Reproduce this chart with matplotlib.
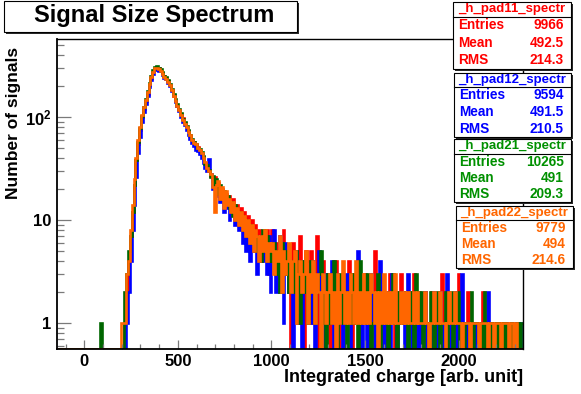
import numpy as np
import matplotlib.pyplot as plt
from matplotlib.patches import Rectangle
from matplotlib.lines import Line2D
from matplotlib.ticker import FixedLocator, NullFormatter

plt.rcParams['font.family'] = ['Liberation Sans', 'DejaVu Sans']
plt.rcParams['font.weight'] = 'bold'
plt.rcParams['mathtext.fontset'] = 'custom'
plt.rcParams['mathtext.rm'] = 'Liberation Sans:bold'
plt.rcParams['mathtext.it'] = 'Liberation Sans:bold'
plt.rcParams['mathtext.bf'] = 'Liberation Sans:bold'

W, H = 581, 394

# histogram range / binning
x_lo, x_hi, n_bins = -144, 2342, 250

# bin contents (bins 0..249)
red = ([0] * 36
       + [1, 2, 4, 7, 12, 22, 38, 55, 75, 100, 120, 145, 170, 205, 240, 275, 300, 305, 300, 285,
          270, 250, 240, 225, 205, 185, 160, 145, 130, 118, 108, 98, 88, 80, 74, 66, 60, 58, 54, 51,
          47, 44, 41, 36, 33, 30]
       + [27, 24, 26, 21, 23, 18, 20, 15, 18, 15, 17, 12, 16, 11, 14, 10, 13, 9, 12, 8,
          11, 7, 10, 6, 9, 5, 8, 4, 7, 6, 8, 3, 5]
       + [8, 4, 3, 6, 2, 5, 8, 3, 4, 2,
          0, 6, 3, 1, 4, 7, 2, 0, 5, 4,
          2, 5, 1, 3, 7, 0, 2, 4, 1, 3,
          2, 0, 3, 1, 4, 2, 0, 1, 3, 2,
          1, 4, 2, 0, 3, 1, 2, 0, 2, 1,
          3, 1, 0, 2, 1, 5, 2, 1, 0, 2,
          1, 0, 2, 3, 1, 1, 0, 2, 1, 3,
          2, 1, 0, 1, 2, 1, 3, 0, 1, 2,
          1, 0, 2, 1, 1, 0, 2, 1, 0, 1,
          1, 3, 0, 1, 2, 0, 1, 1, 0, 2,
          3, 1, 0, 1, 0, 2, 1, 0, 1, 0,
          1, 1, 0, 2, 0, 1, 0, 1, 1, 0,
          1, 0, 1, 1, 0, 1, 1, 1, 0, 1,
          0, 1, 1, 0, 0])

blue = ([0] * 36
        + [0, 1, 2, 4, 8, 14, 26, 45, 65, 90, 112, 135, 160, 195, 230, 265, 295, 290, 285, 280,
           260, 240, 235, 215, 200, 180, 165, 140, 128, 115, 100, 90, 85, 76, 68, 62, 56, 52, 48, 47,
           44, 40, 36, 32, 30, 39]
        + [28, 20, 24, 17, 21, 15, 19, 12, 16, 13, 10, 14, 12, 9, 11, 8, 10, 6, 9, 5,
           7, 4, 8, 5, 6, 3, 7, 5, 4, 6, 3, 7, 2]
        + [5, 8, 2, 4, 7, 3, 1, 6, 3, 2,
           4, 0, 2, 5, 1, 3, 0, 4, 2, 1,
           3, 1, 4, 0, 2, 5, 1, 2, 0, 3,
           1, 2, 4, 0, 1, 3, 2, 1, 0, 2,
           3, 1, 0, 2, 1, 2, 5, 1, 0, 1,
           2, 0, 1, 3, 1, 0, 2, 1, 4, 1,
           0, 2, 1, 0, 3, 1, 2, 0, 1, 1,
           2, 0, 1, 3, 1, 0, 1, 2, 0, 1,
           0, 1, 2, 0, 1, 1, 0, 2, 1, 0,
           2, 1, 0, 1, 3, 1, 0, 1, 2, 0,
           1, 0, 3, 1, 0, 1, 0, 1, 0, 1,
           0, 1, 1, 0, 1, 0, 2, 0, 1, 0,
           1, 1, 0, 0, 1, 0, 1, 0, 1, 0,
           1, 0, 0, 1, 0])

green = ([0] * 23 + [1] + [0] * 12
         + [2, 3, 5, 7, 12, 22, 38, 58, 78, 102, 125, 150, 180, 215, 255, 290, 310, 315, 305, 295,
            275, 255, 245, 230, 210, 190, 170, 150, 135, 120, 110, 97, 90, 82, 75, 68, 62, 57, 55, 50,
            49, 46, 42, 35, 34, 31]
         + [26, 27, 21, 25, 18, 22, 16, 19, 15, 17, 13, 15, 11, 14, 10, 12, 9, 11, 8, 10,
            7, 9, 6, 8, 5, 7, 6, 4, 8, 5, 7, 4, 6]
         + [4, 6, 3, 5, 2, 6, 4, 3, 5, 2,
            3, 4, 2, 5, 3, 1, 4, 2, 3, 1,
            2, 4, 3, 1, 2, 3, 5, 1, 2, 0,
            3, 1, 2, 4, 1, 0, 2, 3, 1, 2,
            0, 2, 1, 3, 1, 2, 0, 4, 1, 2,
            1, 3, 2, 0, 1, 2, 1, 3, 0, 1,
            2, 1, 0, 2, 1, 3, 1, 0, 2, 1,
            1, 2, 1, 0, 2, 1, 0, 3, 1, 1,
            2, 0, 1, 1, 0, 2, 1, 0, 1, 2,
            0, 1, 1, 2, 0, 1, 2, 0, 1, 1,
            2, 0, 1, 0, 1, 1, 0, 2, 0, 1,
            1, 0, 1, 0, 2, 0, 1, 0, 1, 1,
            0, 1, 0, 1, 0, 1, 0, 0, 1, 0,
            0, 0, 1, 0, 1])

orange = ([0] * 34 + [1, 1]
          + [1, 3, 4, 8, 14, 25, 40, 60, 80, 105, 125, 148, 175, 210, 245, 275, 300, 305, 295, 285,
             265, 248, 235, 220, 205, 185, 162, 145, 130, 118, 105, 95, 86, 80, 72, 67, 60, 56, 55, 50,
             48, 45, 40, 37, 32, 30]
          + [28, 21, 12, 22, 24, 16, 21, 13, 19, 14, 16, 12, 15, 10, 13, 9, 12, 8, 11, 7,
             10, 6, 9, 5, 8, 7, 4, 7, 5, 8, 4, 6, 5]
          + [6, 3, 5, 4, 7, 2, 5, 3, 4, 6,
             2, 4, 5, 1, 3, 4, 2, 3, 5, 1,
             3, 2, 4, 1, 3, 2, 0, 3, 2, 1,
             2, 3, 1, 2, 0, 3, 1, 2, 4, 1,
             2, 1, 3, 2, 1, 4, 1, 2, 1, 3,
             1, 2, 1, 3, 2, 1, 2, 0, 2, 1,
             3, 1, 2, 1, 2, 1, 3, 1, 1, 2,
             1, 2, 1, 2, 1, 1, 2, 1, 2, 1,
             1, 1, 2, 1, 0, 1, 1, 2, 1, 1,
             2, 1, 1, 0, 1, 2, 1, 1, 2, 1,
             1, 1, 0, 1, 1, 1, 0, 1, 1, 1,
             1, 0, 1, 1, 1, 1, 0, 1, 1, 0,
             1, 1, 1, 0, 1, 1, 1, 0, 1, 1,
             0, 1, 0, 0, 0])

hist_names = ['_h_pad11_spectr', '_h_pad12_spectr', '_h_pad21_spectr', '_h_pad22_spectr']
entries = ['9966', '9594', '10265', '9779']
means = ['492.5', '491.5', '491', '494']
rms = ['214.3', '210.5', '209.3', '214.6']

line_colors = ['#ff0000', '#0000ff', '#006600', '#ff6600']
text_colors = ['#ff0000', '#0000ff', '#009000', '#ff6600']

y_lo, y_hi = 0.56, 574


def fx(x):
    return x / W


def fy(y):
    return 1 - y / H


fig = plt.figure(figsize=(W / 100, H / 100), dpi=100)
ax = fig.add_axes([fx(57.3), fy(348.7), (522.7 - 57.3) / W, (348.7 - 39.3) / H])

edges = np.linspace(x_lo, x_hi, n_bins + 1)
for vals, col in zip([red, blue, green, orange], line_colors):
    v = np.clip(np.asarray(vals, dtype=float), y_lo, None)
    ax.stairs(v, edges, color=col, lw=1.9, baseline=None)

ax.set_xlim(x_lo, x_hi)
ax.set_yscale('log')
ax.set_ylim(y_lo, y_hi)

ax.set_xticks([0, 500, 1000, 1500, 2000])
ax.xaxis.set_minor_locator(FixedLocator(np.arange(-100, 2301, 100)))
ax.set_yticks([1, 10, 100], ['1', '10', r'$10^{2}$'])
ax.yaxis.set_minor_locator(FixedLocator([0.6, 0.7, 0.8, 0.9,
                                         2, 3, 4, 5, 6, 7, 8, 9,
                                         20, 30, 40, 50, 60, 70, 80, 90,
                                         200, 300, 400, 500]))
ax.yaxis.set_minor_formatter(NullFormatter())

ax.tick_params(which='both', direction='in', top=False, right=False,
               color='#7a7a7a', width=0.9)
ax.tick_params(axis='x', which='major', length=6.7, pad=3.5, labelsize=12)
ax.tick_params(axis='x', which='minor', length=3.4)
ax.tick_params(axis='y', which='major', length=10, pad=4, labelsize=12)
ax.tick_params(axis='y', which='minor', length=5)
for s in ax.spines.values():
    s.set_color('black')
    s.set_linewidth(1.0)
ax.spines['left'].set_linewidth(1.3)
ax.spines['bottom'].set_linewidth(1.3)

fig.text(fx(522.7), fy(377), 'Integrated charge [arb. unit]', ha='right', va='center',
         fontsize=13, fontweight='bold')
fig.text(fx(13.5), fy(47), 'Number of signals', ha='center', va='top', rotation=90,
         fontsize=12.5, fontweight='bold')


def pave(x0, y0, x1, y1):
    fig.add_artist(Rectangle((fx(x0 + 1.5), fy(y1 + 1.5)), (x1 - x0) / W, (y1 - y0) / H,
                             transform=fig.transFigure, fc='#2a2a2a', ec='none'))
    fig.add_artist(Rectangle((fx(x0), fy(y1)), (x1 - x0) / W, (y1 - y0) / H,
                             transform=fig.transFigure, fc='white', ec='black', lw=0.8))


# title
pave(4, 1, 297, 32)
fig.text(fx(154.5), fy(22), 'Signal Size Spectrum', ha='center', va='baseline',
         fontsize=17, fontweight='bold')

# stats boxes: left, right, top, header line, bottom
boxes = [(453, 571, 2, 16.5, 69),
         (454, 571, 73, 87, 137),
         (454, 571, 139, 154, 202),
         (456, 573, 206, 220, 268)]
for i, (l, r, t, hl, b) in enumerate(boxes):
    pave(l, t, r, b)
    fig.add_artist(Line2D([fx(l), fx(r)], [fy(hl), fy(hl)], transform=fig.transFigure,
                          color='black', lw=0.8))
    c = text_colors[i]
    fig.text(fx((l + r) / 2), fy((t + hl) / 2), hist_names[i], ha='center', va='center',
             fontsize=9.5, fontweight='bold', color=c)
    row_h = (b - hl) / 3
    for k, (lab, val) in enumerate(zip(['Entries', 'Mean', 'RMS'], [entries[i], means[i], rms[i]])):
        yc = hl + row_h * (k + 0.5)
        fig.text(fx(l + 5.5), fy(yc), lab, ha='left', va='center', fontsize=9.8,
                 fontweight='bold', color=c)
        fig.text(fx(r - 7), fy(yc), val, ha='right', va='center', fontsize=9.8,
                 fontweight='bold', color=c)

fig.savefig('out.png', dpi=100)
